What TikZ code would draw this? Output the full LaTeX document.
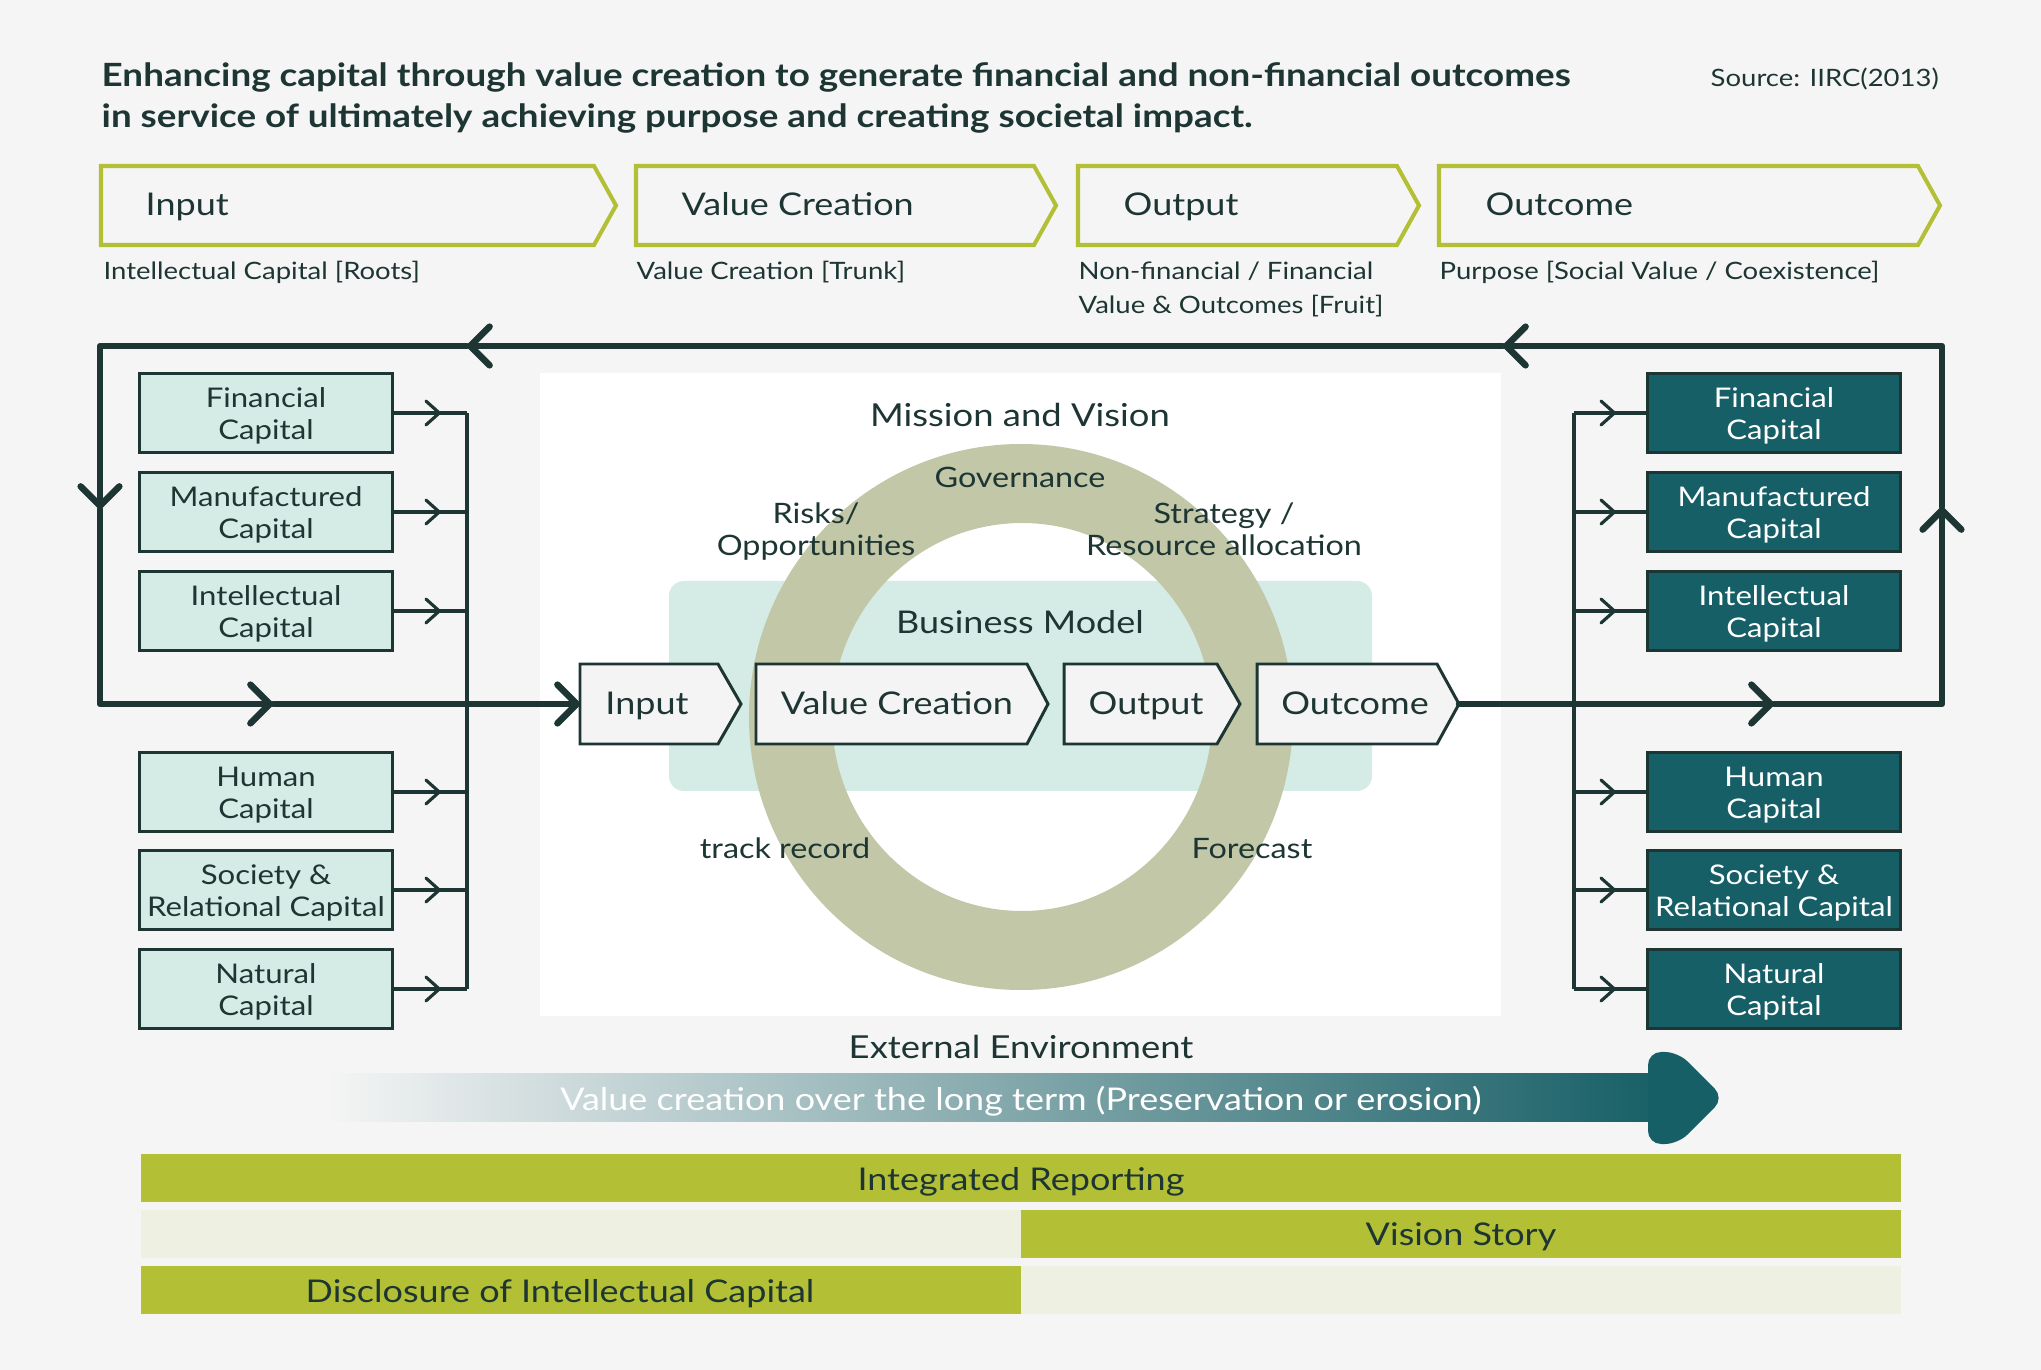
\documentclass[tikz,border=0pt]{standalone}
\usepackage{fontspec}
\setmainfont{Lato}[FakeStretch=1.15]
\usetikzlibrary{arrows.meta}

\definecolor{bgc}{HTML}{F5F5F5}
\definecolor{ink}{HTML}{1D3633}
\definecolor{mint}{HTML}{D5EBE6}
\definecolor{deepteal}{HTML}{175F66}
\definecolor{lime}{HTML}{B3C036}
\definecolor{ringc}{HTML}{C1C7A7}
\definecolor{pale}{HTML}{EEF0E2}
\definecolor{chevfill}{HTML}{F3F4F3}

% chevron: style, name, left, notch, tip, top, bottom
\newcommand{\chev}[7]{%
  \draw[#1]
    (#3,#6) -- (#4,#6) -- (#5,{(#6+#7)/2}) -- (#4,#7) -- (#3,#7) -- cycle;
  \coordinate (#2L) at (#3,{(#6+#7)/2});
  \coordinate (#2R) at (#5,{(#6+#7)/2});
}

\begin{document}
\begin{tikzpicture}[x=0.01cm,y=-0.01cm,
  every node/.style={text=ink,inner sep=0pt},
  loopline/.style={draw=ink,line width=1.85pt,line cap=round,line join=round,
    -{Straight Barb[length=5.5pt,width=11pt,round]}},
  feedline/.style={draw=ink,line width=0.9pt},
  feedtip/.style={feedline,-{Straight Barb[length=3.8pt,width=6.8pt,round]}},
  capl/.style={draw=ink,line width=0.75pt,fill=mint,minimum width=2.53cm,
    minimum height=0.79cm,align=center,font=\fontsize{7.7}{9.1}\selectfont,
    text height=16.6pt,text depth=1.5pt},
  capr/.style={capl,fill=deepteal,text=white},
  topchev/.style={draw=lime,line width=1.15pt,fill=bgc},
  inchev/.style={draw=ink,line width=0.85pt,fill=chevfill},
  chevtext/.style={font=\fontsize{8.9}{10}\selectfont},
  sublabel/.style={font=\fontsize{6.8}{9.6}\selectfont,align=left},
  ringtext/.style={font=\fontsize{8}{9.1}\selectfont,align=center},
  bartext/.style={font=\fontsize{8.9}{10}\selectfont}]

  \useasboundingbox (0,0) rectangle (2041,1370);
  \fill[bgc] (0,0) rectangle (2041,1370);

  % heading
  \node[anchor=north west,align=left,font=\fontsize{9.1}{11.7}\selectfont\bfseries]
    (title) at (101,62)
    {Enhancing capital through value creation to generate financial and non-financial outcomes\\
     in service of ultimately achieving purpose and creating societal impact.};
  \node[anchor=base west,font=\fontsize{6.8}{8}\selectfont] (src) at (1710,87) {Source: IIRC(2013)};

  % stages on top
  \chev{topchev}{tin}{101}{594}{616}{166}{245}
  \chev{topchev}{tvc}{636}{1034}{1056}{166}{245}
  \chev{topchev}{tout}{1078}{1397}{1419}{166}{245}
  \chev{topchev}{toc}{1439}{1918}{1940}{166}{245}
  \node[chevtext,anchor=base west] (tinT) at (145,216) {Input};
  \node[chevtext,anchor=base west] (tvcT) at (681,216) {Value Creation};
  \node[chevtext,anchor=base west] (toutT) at (1123,216) {Output};
  \node[chevtext,anchor=base west] (tocT) at (1485,216) {Outcome};
  \node[sublabel,anchor=base west] (sin) at (103,280) {Intellectual Capital [Roots]};
  \node[sublabel,anchor=base west] (svc) at (636,280) {Value Creation [Trunk]};
  \node[sublabel,anchor=north west] (sout) at (1078,261)
    {Non-financial / Financial\\Value \& Outcomes [Fruit]};
  \node[sublabel,anchor=base west] (soc) at (1439,280) {Purpose [Social Value / Coexistence]};

  % centre panel
  \fill[white] (540,373) rectangle (1501,1016);
  \fill[mint,rounded corners=0.15cm] (669,581) rectangle (1372,791);
  \fill[ringc,even odd rule]
    (1021,717) ellipse [x radius=272,y radius=273]
    (1022,717) ellipse [x radius=190,y radius=194];
  \node[anchor=base,font=\fontsize{9}{10}\selectfont] (mv) at (1020,427) {Mission and Vision};
  \node[ringtext,anchor=base] (gov) at (1020,488) {Governance};
  \node[ringtext] (risk) at (816,532) {Risks/\\Opportunities};
  \node[ringtext] (strat) at (1224,529) {Strategy /\\Resource allocation};
  \node[anchor=base,font=\fontsize{8.9}{10}\selectfont] (bm) at (1020,634) {Business Model};
  \node[ringtext,anchor=base] (track) at (785,859) {track record};
  \node[ringtext,anchor=base] (fore) at (1252,859) {Forecast};

  \chev{inchev}{in}{580}{718}{741}{664}{744}
  \chev{inchev}{vc}{756}{1027}{1048}{664}{744}
  \chev{inchev}{out}{1064}{1217}{1240}{664}{744}
  \chev{inchev}{oc}{1257}{1437}{1459}{664}{744}
  \node[chevtext,anchor=base] (inT) at (647,715) {Input};
  \node[chevtext,anchor=base] (vcT) at (897,715) {Value Creation};
  \node[chevtext,anchor=base] (outT) at (1146,715) {Output};
  \node[chevtext,anchor=base] (ocT) at (1355,715) {Outcome};

  % capitals in
  \node[capl] (lfin) at (266,413) {Financial\\Capital};
  \node[capl] (lman) at (266,512) {Manufactured\\Capital};
  \node[capl] (lint) at (266,611) {Intellectual\\Capital};
  \node[capl] (lhum) at (266,792) {Human\\Capital};
  \node[capl] (lsoc) at (266,890) {Society \&\\Relational Capital};
  \node[capl] (lnat) at (266,989) {Natural\\Capital};

  % capitals out
  \node[capr] (rfin) at (1774,413) {Financial\\Capital};
  \node[capr] (rman) at (1774,512) {Manufactured\\Capital};
  \node[capr] (rint) at (1774,611) {Intellectual\\Capital};
  \node[capr] (rhum) at (1774,792) {Human\\Capital};
  \node[capr] (rsoc) at (1774,890) {Society \&\\Relational Capital};
  \node[capr] (rnat) at (1774,989) {Natural\\Capital};

  \coordinate (lbus) at (467,0);
  \coordinate (rbus) at (1574,0);
  \draw[feedline]
    (lfin.east -| lbus)
    --
    (lnat.east -| lbus);
  \draw[feedline]
    (rfin.west -| rbus)
    --
    (rnat.west -| rbus);
  \foreach \c in {fin,man,int,hum,soc,nat} {
    \draw[feedline] (l\c.east) -- (l\c.east -| lbus);
    \draw[feedtip] (l\c.east) -- ++(47,0);
    \draw[feedline] (r\c.west -| rbus) -- (r\c.west);
    \draw[feedtip] (r\c.west -| rbus) -- ++(42,0);
  }

  % the loop
  \coordinate (lpR) at (1942,704);
  \coordinate (lpTR) at (1942,346);
  \coordinate (lpTL) at (100,346);
  \coordinate (lpL) at (100,704);
  \coordinate (a1) at (1774,704);
  \coordinate (a2) at (1942,507);
  \coordinate (a3) at (1503,346);
  \coordinate (a4) at (467,346);
  \coordinate (a5) at (100,509);
  \coordinate (a6) at (273,704);
  \draw[loopline] (ocR) -- (a1);
  \draw[loopline] (a1) -- (lpR) -- (a2);
  \draw[loopline] (a2) -- (lpTR) -- (a3);
  \draw[loopline] (a3) -- (a4);
  \draw[loopline] (a4) -- (lpTL) -- (a5);
  \draw[loopline] (a5) -- (lpL) -- (a6);
  \draw[loopline] (a6) -- (inL);

  % long term
  \node[anchor=base,font=\fontsize{9}{10}\selectfont] (ext) at (1021,1058) {External Environment};
  \shade[left color=bgc,right color=deepteal] (325,1074) rectangle (1662,1122);
  \fill[deepteal,rounded corners=0.13cm]
    (1648,1098) -- (1648,1052) -- (1678,1052) -- (1724,1098)
    -- (1678,1144) -- (1648,1144) -- cycle;
  \node[bartext,anchor=base,text=white] (lt) at (1021,1110)
    {Value creation over the long term (Preservation or erosion)};

  % reporting bars
  \fill[lime] (141,1154) rectangle (1901,1202);
  \fill[pale] (141,1210) rectangle (1021,1258);
  \fill[lime] (1021,1210) rectangle (1901,1258);
  \fill[lime] (141,1266) rectangle (1021,1314);
  \fill[pale] (1021,1266) rectangle (1901,1314);
  \node[bartext,anchor=base] (ir) at (1021,1190) {Integrated Reporting};
  \node[bartext,anchor=base] (vs) at (1461,1245) {Vision Story};
  \node[bartext,anchor=base] (dic) at (560,1302) {Disclosure of Intellectual Capital};
\end{tikzpicture}
\end{document}
